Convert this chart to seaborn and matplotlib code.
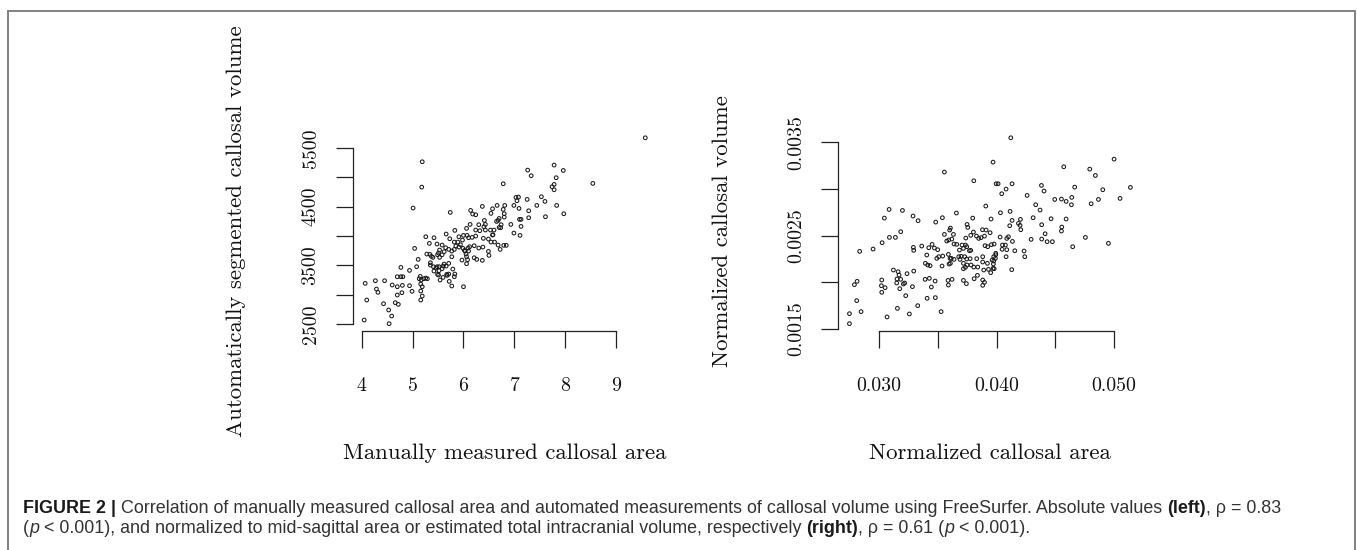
import numpy as np
import pandas as pd
import seaborn as sns
import matplotlib.pyplot as plt
from matplotlib.lines import Line2D

# manually measured area vs. FreeSurfer volume (left panel)
manual_area = [
    9.57, 5.19, 5.18, 5.01, 5.74, 6.78, 7.26, 7.33, 7.78, 7.96, 7.82, 7.78, 7.74, 7.78, 8.54,
    7.83, 7.97, 7.61, 7.53, 7.60, 7.44, 7.25, 7.03, 7.08, 7.05, 6.99, 7.09, 7.28, 7.10, 7.13,
    7.28, 7.13, 6.93, 6.99, 7.11, 6.81, 6.78, 6.66, 6.57, 6.80, 6.80, 6.70, 6.65, 6.74, 6.70,
    6.73, 6.60, 6.57, 6.68, 6.54, 6.41, 6.43, 6.37, 6.18, 6.24, 6.14, 6.13, 6.06, 6.30, 6.40,
    6.43, 6.53, 6.24, 6.32, 6.24, 6.39, 6.49, 6.58, 6.61, 6.54, 6.68, 6.79, 6.84, 6.72, 6.49,
    6.50, 6.37, 6.26, 6.38, 6.30, 6.21, 6.17, 6.10, 6.07, 6.00, 5.98, 5.99, 6.09, 6.12, 6.10,
    6.03, 6.05, 6.06, 6.08, 6.06, 6.21, 5.97, 5.91, 5.94, 5.85, 5.82, 5.77, 5.82, 5.89, 5.91,
    5.83, 5.66, 5.73, 5.58, 5.65, 5.62, 5.71, 5.77, 5.53, 5.51, 5.58, 5.49, 5.40, 5.53, 5.42,
    5.48, 5.26, 5.33, 5.28, 5.34, 5.37, 5.35, 5.35, 5.41, 5.46, 5.48, 5.52, 5.62, 5.66, 5.60,
    5.58, 5.71, 5.67, 5.52, 5.49, 5.54, 5.60, 5.71, 5.68, 5.79, 5.83, 5.82, 5.72, 5.77, 6.00,
    5.42, 5.51, 5.15, 5.13, 5.22, 5.26, 5.29, 5.17, 5.16, 5.19, 5.16, 5.19, 5.16, 5.08, 4.94,
    5.04, 5.11, 4.77, 4.77, 4.70, 4.81, 4.60, 4.70, 4.80, 4.94, 4.99, 4.79, 4.70, 4.66, 4.72,
    4.45, 4.27, 4.29, 4.32, 4.07, 4.10, 4.43, 4.53, 4.59, 4.54, 4.05, 6.02,
]
auto_volume = [
    5675, 5266, 4834, 4477, 4403, 4891, 5124, 5028, 5209, 5118, 4994, 4880, 4840, 4789, 4897,
    4522, 4380, 4329, 4670, 4590, 4522, 4624, 4658, 4664, 4602, 4522, 4471, 4431, 4284, 4284,
    4312, 4164, 4198, 4050, 4011, 4522, 4454, 4522, 4465, 4380, 4323, 4300, 4249, 4193, 4147,
    4142, 4102, 4017, 4266, 4386, 4266, 4198, 4505, 4375, 4363, 4437, 4198, 4130, 4193, 4159,
    4102, 4102, 4102, 4090, 3999, 3960, 3948, 4022, 3897, 3897, 3846, 3841, 3841, 3772, 3738,
    3670, 3585, 3602, 3812, 3795, 3835, 3977, 3971, 4011, 4011, 3931, 3790, 3795, 3818, 3744,
    3744, 3693, 3647, 3596, 3528, 3630, 3590, 3812, 3852, 3829, 3772, 3744, 3897, 3897, 3988,
    4096, 4034, 3954, 3846, 3801, 3733, 3772, 3647, 3761, 3710, 3681, 3681, 3636, 3636, 3971,
    3863, 3988, 3875, 3693, 3687, 3653, 3545, 3505, 3477, 3454, 3477, 3477, 3522, 3488, 3488,
    3443, 3534, 3346, 3409, 3346, 3250, 3295, 3352, 3329, 3437, 3352, 3307, 3227, 3148, 3136,
    3403, 3335, 3312, 3272, 3272, 3284, 3272, 3250, 3182, 3136, 3062, 2977, 2909, 3477, 3414,
    3789, 3602, 3465, 3306, 3306, 3306, 3165, 3136, 3159, 3153, 3057, 3034, 2994, 2864, 2835,
    3238, 3238, 3096, 3040, 3193, 2909, 2846, 2739, 2636, 2506, 2568, 3755,
]

# normalized values (right panel)
norm_area = [
    0.04121, 0.03970, 0.03556, 0.03806, 0.03996, 0.04013, 0.04132, 0.04081, 0.04044, 0.04572,
    0.04793, 0.04841, 0.05000, 0.05139, 0.04904, 0.05051, 0.04867, 0.04805, 0.04665, 0.04640,
    0.04637, 0.04592, 0.04552, 0.04495, 0.04382, 0.04404, 0.04260, 0.04333, 0.04370, 0.04311,
    0.04464, 0.04384, 0.04592, 0.04555, 0.04552, 0.04413, 0.04384, 0.04430, 0.04475, 0.04294,
    0.04648, 0.04756, 0.04952, 0.04115, 0.04132, 0.04033, 0.03908, 0.03953, 0.03658, 0.03797,
    0.03539, 0.03482, 0.03085, 0.03199, 0.03045, 0.03289, 0.03332, 0.03184, 0.03088, 0.03139,
    0.03026, 0.02949, 0.02835, 0.03363, 0.03292, 0.03295, 0.03423, 0.03451, 0.03471, 0.03499,
    0.03406, 0.03394, 0.03434, 0.03414, 0.03491, 0.03508, 0.03542, 0.03536, 0.03556, 0.03601,
    0.03607, 0.03576, 0.03593, 0.03619, 0.03633, 0.03638, 0.03661, 0.03706, 0.03735, 0.03590,
    0.03604, 0.03615, 0.03607, 0.03596, 0.03638, 0.03678, 0.03689, 0.03684, 0.03718, 0.03746,
    0.03780, 0.03738, 0.03780, 0.03755, 0.03749, 0.03803, 0.03829, 0.03848, 0.03868, 0.03880,
    0.03911, 0.03897, 0.03945, 0.03698, 0.03729, 0.03746, 0.03775, 0.03769, 0.03718, 0.03718,
    0.03735, 0.03749, 0.03783, 0.03806, 0.03840, 0.03831, 0.03882, 0.03882, 0.03902, 0.03925,
    0.03956, 0.03979, 0.03922, 0.03891, 0.03931, 0.03962, 0.03976, 0.03973, 0.03950, 0.03979,
    0.03809, 0.03837, 0.03882, 0.03897, 0.03882, 0.03718, 0.03743, 0.03587, 0.03621, 0.03590,
    0.03477, 0.03428, 0.03392, 0.03445, 0.03479, 0.03409, 0.03528, 0.03329, 0.03258, 0.03284,
    0.03295, 0.03238, 0.03207, 0.03218, 0.03184, 0.03170, 0.03153, 0.03162, 0.03122, 0.03176,
    0.03150, 0.03227, 0.03156, 0.03068, 0.03023, 0.03020, 0.03051, 0.03023, 0.02813, 0.02790,
    0.02810, 0.02847, 0.02748, 0.02748, 0.04129, 0.04112, 0.04155, 0.04200, 0.04206, 0.04203,
    0.04234, 0.04240, 0.04186, 0.04075, 0.04081, 0.04087, 0.04101, 0.04087, 0.04047, 0.04030,
    0.04050, 0.04135, 0.03993, 0.03990, 0.03976, 0.03970, 0.03993,
]
norm_volume = [
    0.003550, 0.003289, 0.003182, 0.003089, 0.003057, 0.003057, 0.003057, 0.003000, 0.002950, 0.003239,
    0.003214, 0.003146, 0.003321, 0.003018, 0.002993, 0.002900, 0.002889, 0.002843, 0.003021, 0.002911,
    0.002832, 0.002868, 0.002893, 0.002889, 0.003039, 0.002979, 0.002932, 0.002832, 0.002775, 0.002693,
    0.002682, 0.002618, 0.002679, 0.002593, 0.002550, 0.002521, 0.002464, 0.002436, 0.002436, 0.002461,
    0.002382, 0.002482, 0.002418, 0.002761, 0.002664, 0.002746, 0.002818, 0.002679, 0.002743, 0.002689,
    0.002693, 0.002646, 0.002782, 0.002771, 0.002689, 0.002711, 0.002661, 0.002543, 0.002482, 0.002482,
    0.002425, 0.002357, 0.002332, 0.002389, 0.002375, 0.002343, 0.002371, 0.002407, 0.002368, 0.002350,
    0.002293, 0.002204, 0.002179, 0.002186, 0.002257, 0.002275, 0.002282, 0.002175, 0.002514, 0.002561,
    0.002582, 0.002443, 0.002454, 0.002464, 0.002514, 0.002411, 0.002407, 0.002400, 0.002400, 0.002300,
    0.002257, 0.002257, 0.002204, 0.002196, 0.002246, 0.002275, 0.002246, 0.002346, 0.002364, 0.002382,
    0.002343, 0.002475, 0.002504, 0.002589, 0.002621, 0.002539, 0.002496, 0.002471, 0.002479, 0.002564,
    0.002561, 0.002496, 0.002532, 0.002279, 0.002275, 0.002250, 0.002254, 0.002339, 0.002204, 0.002146,
    0.002161, 0.002186, 0.002186, 0.002164, 0.002164, 0.002254, 0.002275, 0.002218, 0.002393, 0.002382,
    0.002404, 0.002411, 0.002204, 0.002132, 0.002139, 0.002239, 0.002275, 0.002196, 0.002104, 0.002146,
    0.002039, 0.002075, 0.002025, 0.002000, 0.001968, 0.002021, 0.001986, 0.002021, 0.002032, 0.001971,
    0.002014, 0.002043, 0.002032, 0.001950, 0.001836, 0.001829, 0.001686, 0.001750, 0.001661, 0.001954,
    0.002121, 0.002093, 0.001982, 0.001993, 0.002032, 0.002079, 0.002036, 0.002114, 0.002132, 0.001932,
    0.001993, 0.001857, 0.001721, 0.001629, 0.002025, 0.001964, 0.001943, 0.001893, 0.002011, 0.001975,
    0.001804, 0.001686, 0.001664, 0.001557, 0.002136, 0.002607, 0.002339, 0.002611, 0.002564, 0.002675,
    0.002336, 0.002275, 0.002632, 0.002400, 0.002275, 0.002350, 0.002489, 0.002471, 0.002354, 0.002486,
    0.002400, 0.002439, 0.002311, 0.002257, 0.002229, 0.002150, 0.002296,
]

left_xticks = [4, 5, 6, 7, 8, 9]
left_xlabels = ["4", "5", "6", "7", "8", "9"]
left_yticks = [2500, 3000, 3500, 4000, 4500, 5000, 5500]
left_ylabels = ["2500", "", "3500", "", "4500", "", "5500"]
right_xticks = [0.030, 0.035, 0.040, 0.045, 0.050]
right_xlabels = ["0.030", "", "0.040", "", "0.050"]
right_yticks = [0.0015, 0.0020, 0.0025, 0.0030, 0.0035]
right_ylabels = ["0.0015", "", "0.0025", "", "0.0035"]

sns.set_theme(style="white")
plt.rcParams["font.family"] = ["cmr10", "DejaVu Serif"]

left = pd.DataFrame({"area": manual_area, "volume": auto_volume})
right = pd.DataFrame({"area": norm_area, "volume": norm_volume})

fig = plt.figure(figsize=(13.57, 5.5), dpi=100)
ax1 = fig.add_axes([0.2601, 0.398, 0.2237, 0.365])
ax2 = fig.add_axes([0.6177, 0.398, 0.2236, 0.365])


def r_limits(v):
    # R pads the data range by 4% on each side
    lo, hi = min(v), max(v)
    pad = (hi - lo) * 0.04
    return lo - pad, hi + pad


panels = [
    (ax1, left, left_xticks, left_xlabels, left_yticks, left_ylabels,
     "Manually measured callosal area", "Automatically segmented callosal volume"),
    (ax2, right, right_xticks, right_xlabels, right_yticks, right_ylabels,
     "Normalized callosal area", "Normalized callosal volume"),
]

for ax, df, xt, xl, yt, yl, xlab, ylab in panels:
    sns.scatterplot(data=df, x="area", y="volume", ax=ax, s=7, marker="o",
                    facecolor="none", edgecolor="#1a1a1a", linewidth=0.75)
    ax.set_xlim(r_limits(df["area"]))
    ax.set_ylim(r_limits(df["volume"]))
    ax.set_xticks(xt)
    ax.set_xticklabels(xl)
    ax.set_yticks(yt)
    ax.set_yticklabels(yl)
    for side in ["top", "right"]:
        ax.spines[side].set_visible(False)
    ax.spines["bottom"].set_bounds(xt[0], xt[-1])
    ax.spines["left"].set_bounds(yt[0], yt[-1])
    for side in ["bottom", "left"]:
        ax.spines[side].set_color("#222222")
        ax.spines[side].set_linewidth(0.9)
    ax.tick_params(axis="both", bottom=True, left=True, direction="out",
                   length=12, width=0.9, color="#222222",
                   labelsize=14.3, labelcolor="#111111")
    ax.tick_params(axis="x", pad=21)
    ax.tick_params(axis="y", pad=12, labelrotation=90)
    plt.setp(ax.get_yticklabels(), va="center")
    ax.set_xlabel(xlab, fontsize=16.4, color="#111111", va="center")
    ax.set_ylabel(ylab, fontsize=16.4, color="#111111", va="center")
    ax.xaxis.set_label_coords(0.5, -0.607)
    ax.yaxis.set_label_coords(-0.383, 0.5)
    ax.set_facecolor("none")

# grey frame of the figure panel (open at the bottom)
frame = dict(color="#808080", linewidth=1.4, transform=fig.transFigure)
fig.add_artist(Line2D([8 / 1357, 1355 / 1357], [1 - 11 / 550, 1 - 11 / 550], **frame))
fig.add_artist(Line2D([8 / 1357, 8 / 1357], [0, 1 - 11 / 550], **frame))
fig.add_artist(Line2D([1355 / 1357, 1355 / 1357], [0, 1 - 11 / 550], **frame))

# caption, built from pieces with different weights / styles
cap_font = ["Liberation Sans", "DejaVu Sans"]
cap_size = 12.9
cap_color = "#333333"
line1 = [
    ("FIGURE 2", "bold", "normal", False),
    ("|", "bold", "normal", True),
    ("Correlation of manually measured callosal area and automated measurements of "
     "callosal volume using FreeSurfer. Absolute values", "normal", "normal", True),
    ("(left)", "bold", "normal", True),
    (", ρ = 0.83", "normal", "normal", False),
]
line2 = [
    ("(", "normal", "normal", False),
    ("p", "normal", "italic", False),
    ("< 0.001), and normalized to mid-sagittal area or estimated total intracranial "
     "volume, respectively", "normal", "normal", True),
    ("(right)", "bold", "normal", True),
    (", ρ = 0.61 (", "normal", "normal", False),
    ("p", "normal", "italic", False),
    ("< 0.001).", "normal", "normal", True),
]

renderer = fig.canvas.get_renderer()
probe = fig.text(0, 0, "a a", fontsize=cap_size, family=cap_font)
probe2 = fig.text(0, 0, "aa", fontsize=cap_size, family=cap_font)
space_w = (probe.get_window_extent(renderer).width
           - probe2.get_window_extent(renderer).width)
probe.remove()
probe2.remove()

for pieces, base_y in [(line1, 513), (line2, 533)]:
    x_px = 23.0
    for text, weight, style, space_before in pieces:
        if space_before:
            x_px += space_w
        color = "#1a1a1a" if weight == "bold" else cap_color
        t = fig.text(x_px / 1357, 1 - base_y / 550, text, fontsize=cap_size,
                     family=cap_font, weight=weight, style=style, color=color,
                     ha="left", va="baseline")
        x_px += t.get_window_extent(renderer).width

fig.savefig("out.png", dpi=100)
